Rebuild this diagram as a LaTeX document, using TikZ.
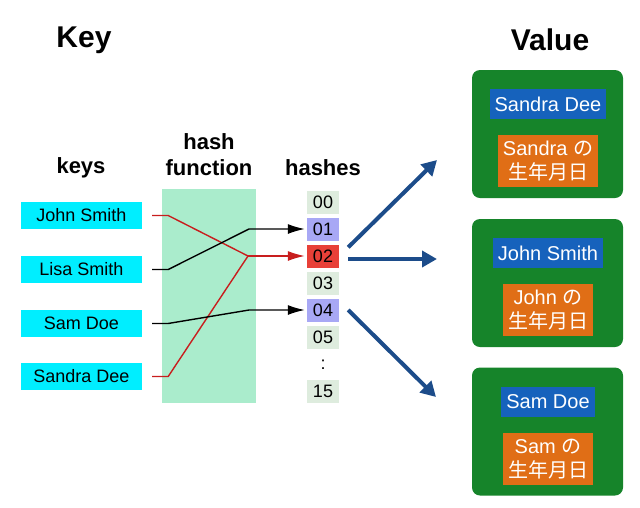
\documentclass[tikz,border=0pt]{standalone}
\usepackage{fontspec}
\setmainfont{Liberation Sans}
\newfontfamily\jpfont{Noto Sans CJK JP}
\usepackage{tikz}
\usetikzlibrary{arrows.meta, positioning, calc}
\definecolor{keycyan}{RGB}{0,238,255}
\definecolor{hashmint}{RGB}{170,236,204}
\definecolor{cellgray}{RGB}{222,236,222}
\definecolor{celllav}{RGB}{168,168,245}
\definecolor{cellred}{RGB}{232,64,56}
\definecolor{valgreen}{RGB}{22,132,42}
\definecolor{valblue}{RGB}{22,98,188}
\definecolor{valorange}{RGB}{224,110,22}
\definecolor{arrowblue}{RGB}{28,76,138}
\definecolor{linered}{RGB}{200,30,30}
\tikzstyle{blackarrow} = [line width=1.4pt, -{Latex[length=17pt,width=10pt]}, shorten >=2pt]
\tikzstyle{bluearrow} = [line width=4pt, arrowblue, -{Triangle[length=15pt,width=16pt]}]

\begin{document}
\begin{tikzpicture}[x=1pt, y=-1pt]
      \useasboundingbox (0,0) rectangle (640,507);
      % Define node styles
      \tikzstyle{title} = [font=\fontsize{30}{34}\selectfont\bfseries]
      \tikzstyle{header} = [font=\fontsize{22}{26}\selectfont\bfseries, align=center]
      \tikzstyle{keybox} = [rectangle, fill=keycyan, minimum width=121pt, minimum height=27pt, font=\fontsize{18}{20}\selectfont]
      \tikzstyle{cell} = [rectangle, inner sep=0pt, minimum width=32pt, minimum height=23pt, font=\fontsize{18}{20}\selectfont]
      \tikzstyle{valbox} = [rectangle, fill=valgreen, rounded corners=8pt, minimum width=151pt, minimum height=128pt]
      \tikzstyle{namebox} = [rectangle, fill=valblue, text=white, inner xsep=5pt, minimum height=30pt, font=\fontsize{20}{24}\selectfont]
      \tikzstyle{datebox} = [rectangle, fill=valorange, text=white, inner xsep=5pt, minimum height=52pt, align=center, font=\fontsize{20}{24}\selectfont]

      % Titles
      \node [title] (keytitle) at (84,40) {Key};
      \node [title] (valtitle) at (550,40) {Value};
      \node [header] (keyshead) at (81,168) {keys};
      \node [header] (fnhead) at (209,155) {hash\\function};
      \node [header] (hashhead) at (323,168) {hashes};

      % Keys and hash function
      \node [rectangle, fill=hashmint, minimum width=94pt, minimum height=214pt] (hashfn) at (209,296) {};
      \node [keybox] (john) at (81.5,215.5) {John Smith};
      \node [keybox] (lisa) at (81.5,269.5) {Lisa Smith};
      \node [keybox] (sam) at (81.5,323.5) {Sam Doe};
      \node [keybox] (sandra) at (81.5,376.5) {Sandra Dee};

      % Hash table
      \node [cell, fill=cellgray] (h00) at (323,202) {00};
      \node [cell, fill=celllav] (h01) at (323,229) {01};
      \node [cell, fill=cellred] (h02) at (323,256) {02};
      \node [cell, fill=cellgray] (h03) at (323,283) {03};
      \node [cell, fill=celllav] (h04) at (323,310) {04};
      \node [cell, fill=cellgray] (h05) at (323,337) {05};
      \node [cell] (hdots) at (323,365) {:};
      \node [cell, fill=cellgray] (h15) at (323,391) {15};

      % Values
      \node [valbox] (vsandra) at (547.5,134) {};
      \node [valbox] (vjohn) at (547.5,283) {};
      \node [valbox] (vsam) at (547.5,431.5) {};
      \node [namebox] (nsandra) at (548,104) {Sandra Dee};
      \node [namebox] (njohn) at (548,253) {John Smith};
      \node [namebox] (nsam) at (548,402) {Sam Doe};
      \node [datebox] (dsandra) at (548,161) {Sandra {\jpfont の}\\{\jpfont 生年月日}};
      \node [datebox] (djohn) at (548,310) {John {\jpfont の}\\{\jpfont 生年月日}};
      \node [datebox] (dsam) at (548,459) {Sam {\jpfont の}\\{\jpfont 生年月日}};

      % Hashing lines
      \coordinate (redjoin) at (248,256);
      \coordinate (lisabend) at (249,229);
      \coordinate (sambend) at (249,310);
      \draw [linered, line width=1.4pt, shorten <=10pt] (john.east) -- ++(26,0) -- (redjoin);
      \draw [linered, line width=1.4pt, shorten <=10pt] (sandra.east) -- ++(26,0) -- (redjoin);
      \draw [blackarrow, linered] (redjoin) -- (h02.west);
      \draw [blackarrow, shorten <=10pt] (lisa.east) -- ++(26,0) -- (lisabend) -- (h01.west);
      \draw [blackarrow, shorten <=10pt] (sam.east) -- ++(26,0) -- (sambend) -- (h04.west);

      % Buckets to values
      \coordinate (tipsandra) at (437,160);
      \coordinate (tipjohn) at (437,259);
      \coordinate (tipsam) at (436,397);
      \draw [bluearrow] ([shift={(9pt,-3pt)}]h02.north east) -- (tipsandra);
      \draw [bluearrow] ([shift={(9pt,-3pt)}]h02.east) -- (tipjohn);
      \draw [bluearrow] ([xshift=9pt]h04.east) -- (tipsam);
    \end{tikzpicture}
\end{document}
